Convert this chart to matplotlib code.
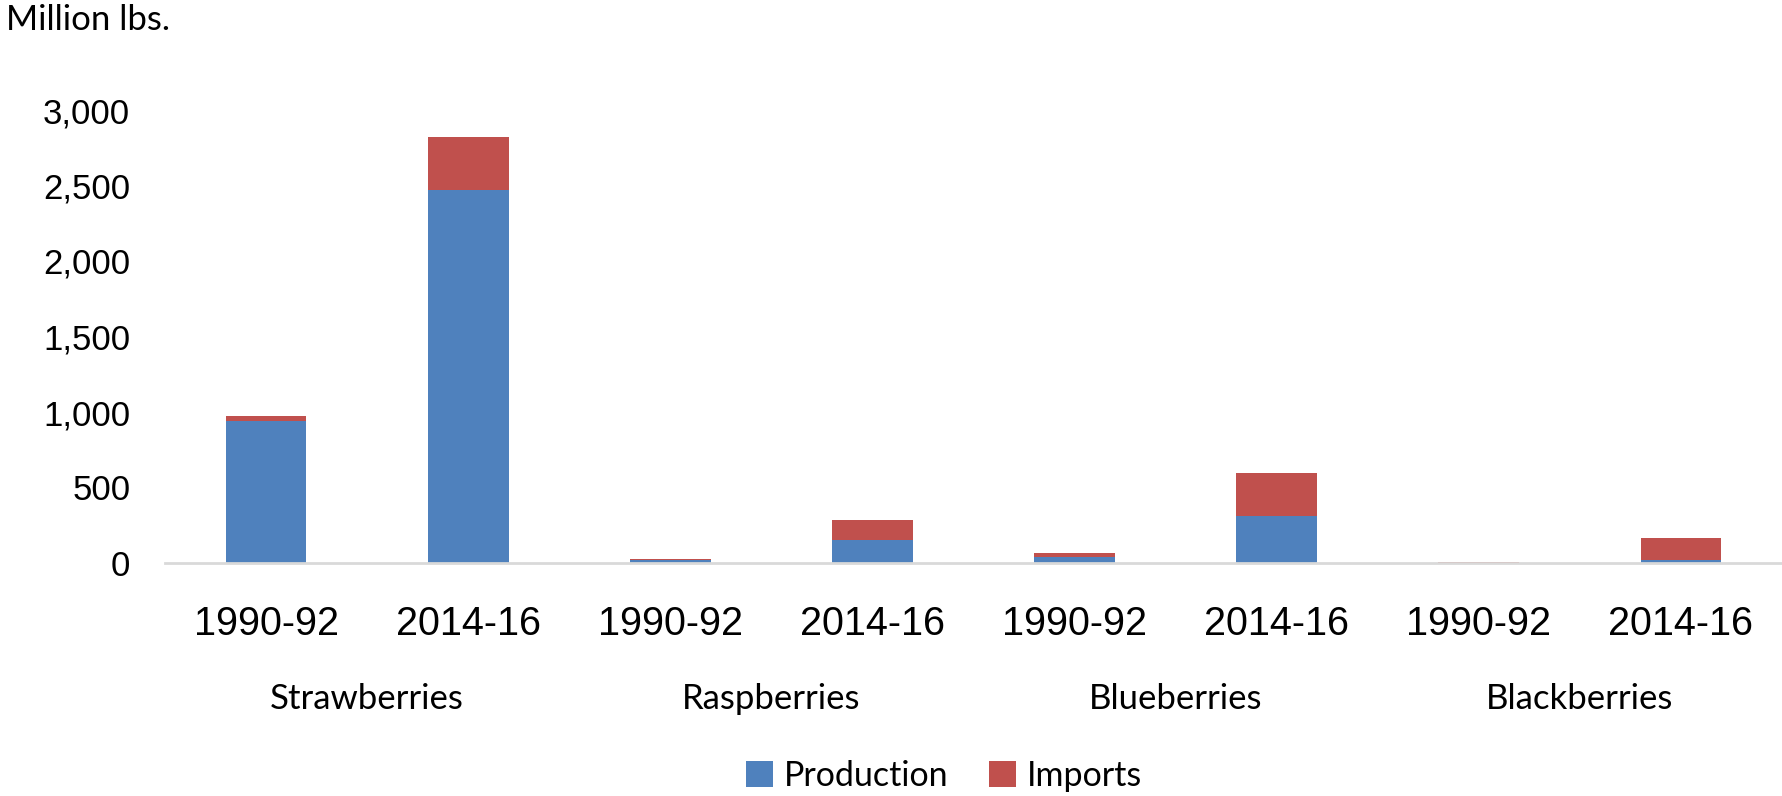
import matplotlib.pyplot as plt
import numpy as np

# Data (million lbs.)
fruits = ['Strawberries', 'Raspberries', 'Blueberries', 'Blackberries']
periods = ['1990-92', '2014-16']
production = [943, 2473, 18, 154, 40, 314, 3, 18]
imports = [33, 349, 9, 134, 27, 281, 4, 149]

blue = '#4F81BD'
red = '#C0504D'

fig = plt.figure(figsize=(17.82, 7.96), dpi=100)
ax = fig.add_axes([165 / 1782, 1 - 563 / 796, 1 - 165 / 1782, (563 - 110) / 796])

x = np.arange(len(production))
ax.bar(x, production, width=0.4, color=blue, label='Production', zorder=2)
ax.bar(x, imports, width=0.4, bottom=production, color=red, label='Imports', zorder=2)

ax.set_xlim(-0.5, len(production) - 0.5)
ax.set_ylim(0, 3000)
ax.set_yticks(range(0, 3001, 500))
ax.set_yticklabels([f'{v:,}' for v in range(0, 3001, 500)],
                   fontsize=25, family='Liberation Sans')
ax.set_xticks(x)
ax.set_xticklabels(periods * len(fruits), fontsize=28.5, family='Liberation Sans')
ax.tick_params(axis='both', length=0)
ax.tick_params(axis='x', pad=30)
ax.tick_params(axis='y', pad=25)

for s in ['top', 'right', 'left']:
    ax.spines[s].set_visible(False)
ax.spines['bottom'].set_color('#d9d9d9')
ax.spines['bottom'].set_linewidth(2)

# category labels under each pair
for i, name in enumerate(fruits):
    ax.text(2 * i + 0.5, -0.30, name, transform=ax.get_xaxis_transform(),
            ha='center', va='center', fontsize=25, family='Lato')

fig.text(6 / 1782, 1 - 20 / 796, 'Million lbs.', ha='left', va='center',
         fontsize=25, family='Lato')

fig.legend(loc='center', bbox_to_anchor=(944 / 1782, 1 - 776 / 796), ncol=2, frameon=False,
           prop={'family': 'Lato', 'size': 24.5}, handlelength=0.8, handleheight=0.8,
           handletextpad=0.3, columnspacing=1.2)

fig.savefig('out.png', dpi=100)
